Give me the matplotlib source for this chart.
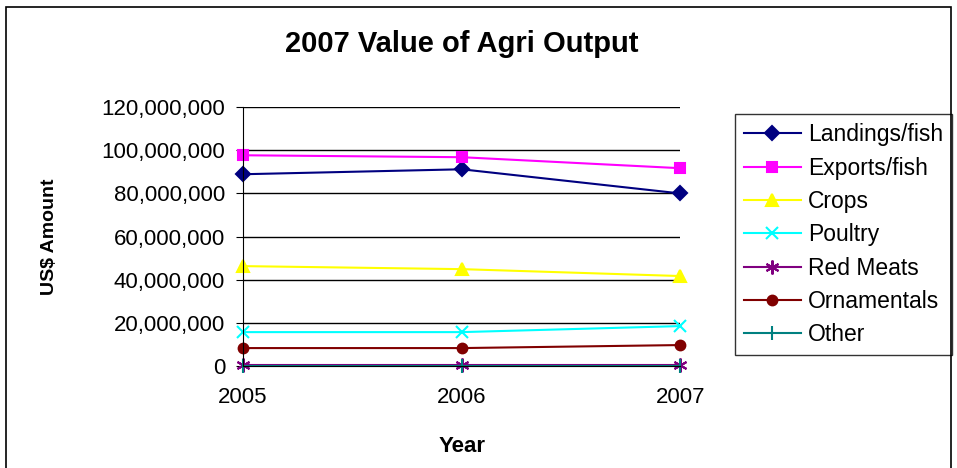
import matplotlib
matplotlib.use('Agg')
import matplotlib.pyplot as plt
from matplotlib.patches import Rectangle
from matplotlib.ticker import FuncFormatter

plt.rcParams['font.family'] = ['Liberation Sans', 'DejaVu Sans']

years = [2005, 2006, 2007]
landings = [88900000, 91200000, 80000000]
exports = [97700000, 96800000, 91700000]
crops = [46300000, 44900000, 41700000]
poultry = [15700000, 15700000, 18500000]
red_meats = [500000, 500000, 500000]
ornamentals = [8300000, 8300000, 9700000]
other = [200000, 200000, 200000]

series = [
    ('Landings/fish', landings, '#000080', 'D', 7),
    ('Exports/fish', exports, '#FF00FF', 's', 7),
    ('Crops', crops, '#FFFF00', '^', 8),
    ('Poultry', poultry, '#00FFFF', 'x', 9),
    ('Red Meats', red_meats, '#800080', (6, 2, 0), 10),
    ('Ornamentals', ornamentals, '#800000', 'o', 7),
    ('Other', other, '#008080', '|', 10),
]

fig = plt.figure(figsize=(9.57, 4.68), dpi=100)
fig.patches.append(Rectangle((0.006, -0.01), 0.988, 0.995, transform=fig.transFigure,
                             fill=False, edgecolor='black', linewidth=1.2))

ax = fig.add_axes([0.254, 0.218, 0.457, 0.553])
for name, vals, col, mk, ms in series:
    ax.plot(years, vals, color=col, marker=mk, markersize=ms, linewidth=1.5,
            markeredgewidth=1.5, label=name, clip_on=False)

ax.set_xlim(2005, 2007)
ax.set_ylim(0, 120000000)
ax.set_xticks(years)
ax.set_yticks(range(0, 120000001, 20000000))
ax.yaxis.set_major_formatter(FuncFormatter(lambda v, p: f'{int(v):,}'))
ax.grid(axis='y', color='black', linewidth=1)
ax.spines['top'].set_visible(False)
ax.spines['right'].set_visible(False)
ax.tick_params(axis='both', labelsize=16, length=5)
ax.tick_params(axis='y', pad=8)
ax.tick_params(axis='x', length=0, pad=15)
ax.set_xlabel('Year', fontsize=16, fontweight='bold', labelpad=20)
ax.set_ylabel('US$ Amount', fontsize=14, fontweight='bold', labelpad=31)
ax.set_title('2007 Value of Agri Output', fontsize=21, fontweight='bold', pad=40)

leg = ax.legend(loc='upper left', bbox_to_anchor=(1.124, 0.973), fontsize=16.5,
                frameon=True, fancybox=False, edgecolor='black', handlelength=2.5,
                handletextpad=0.3, borderaxespad=0, labelspacing=0.45, borderpad=0.4)
leg.get_frame().set_linewidth(1)

fig.savefig('out.png', dpi=100)
